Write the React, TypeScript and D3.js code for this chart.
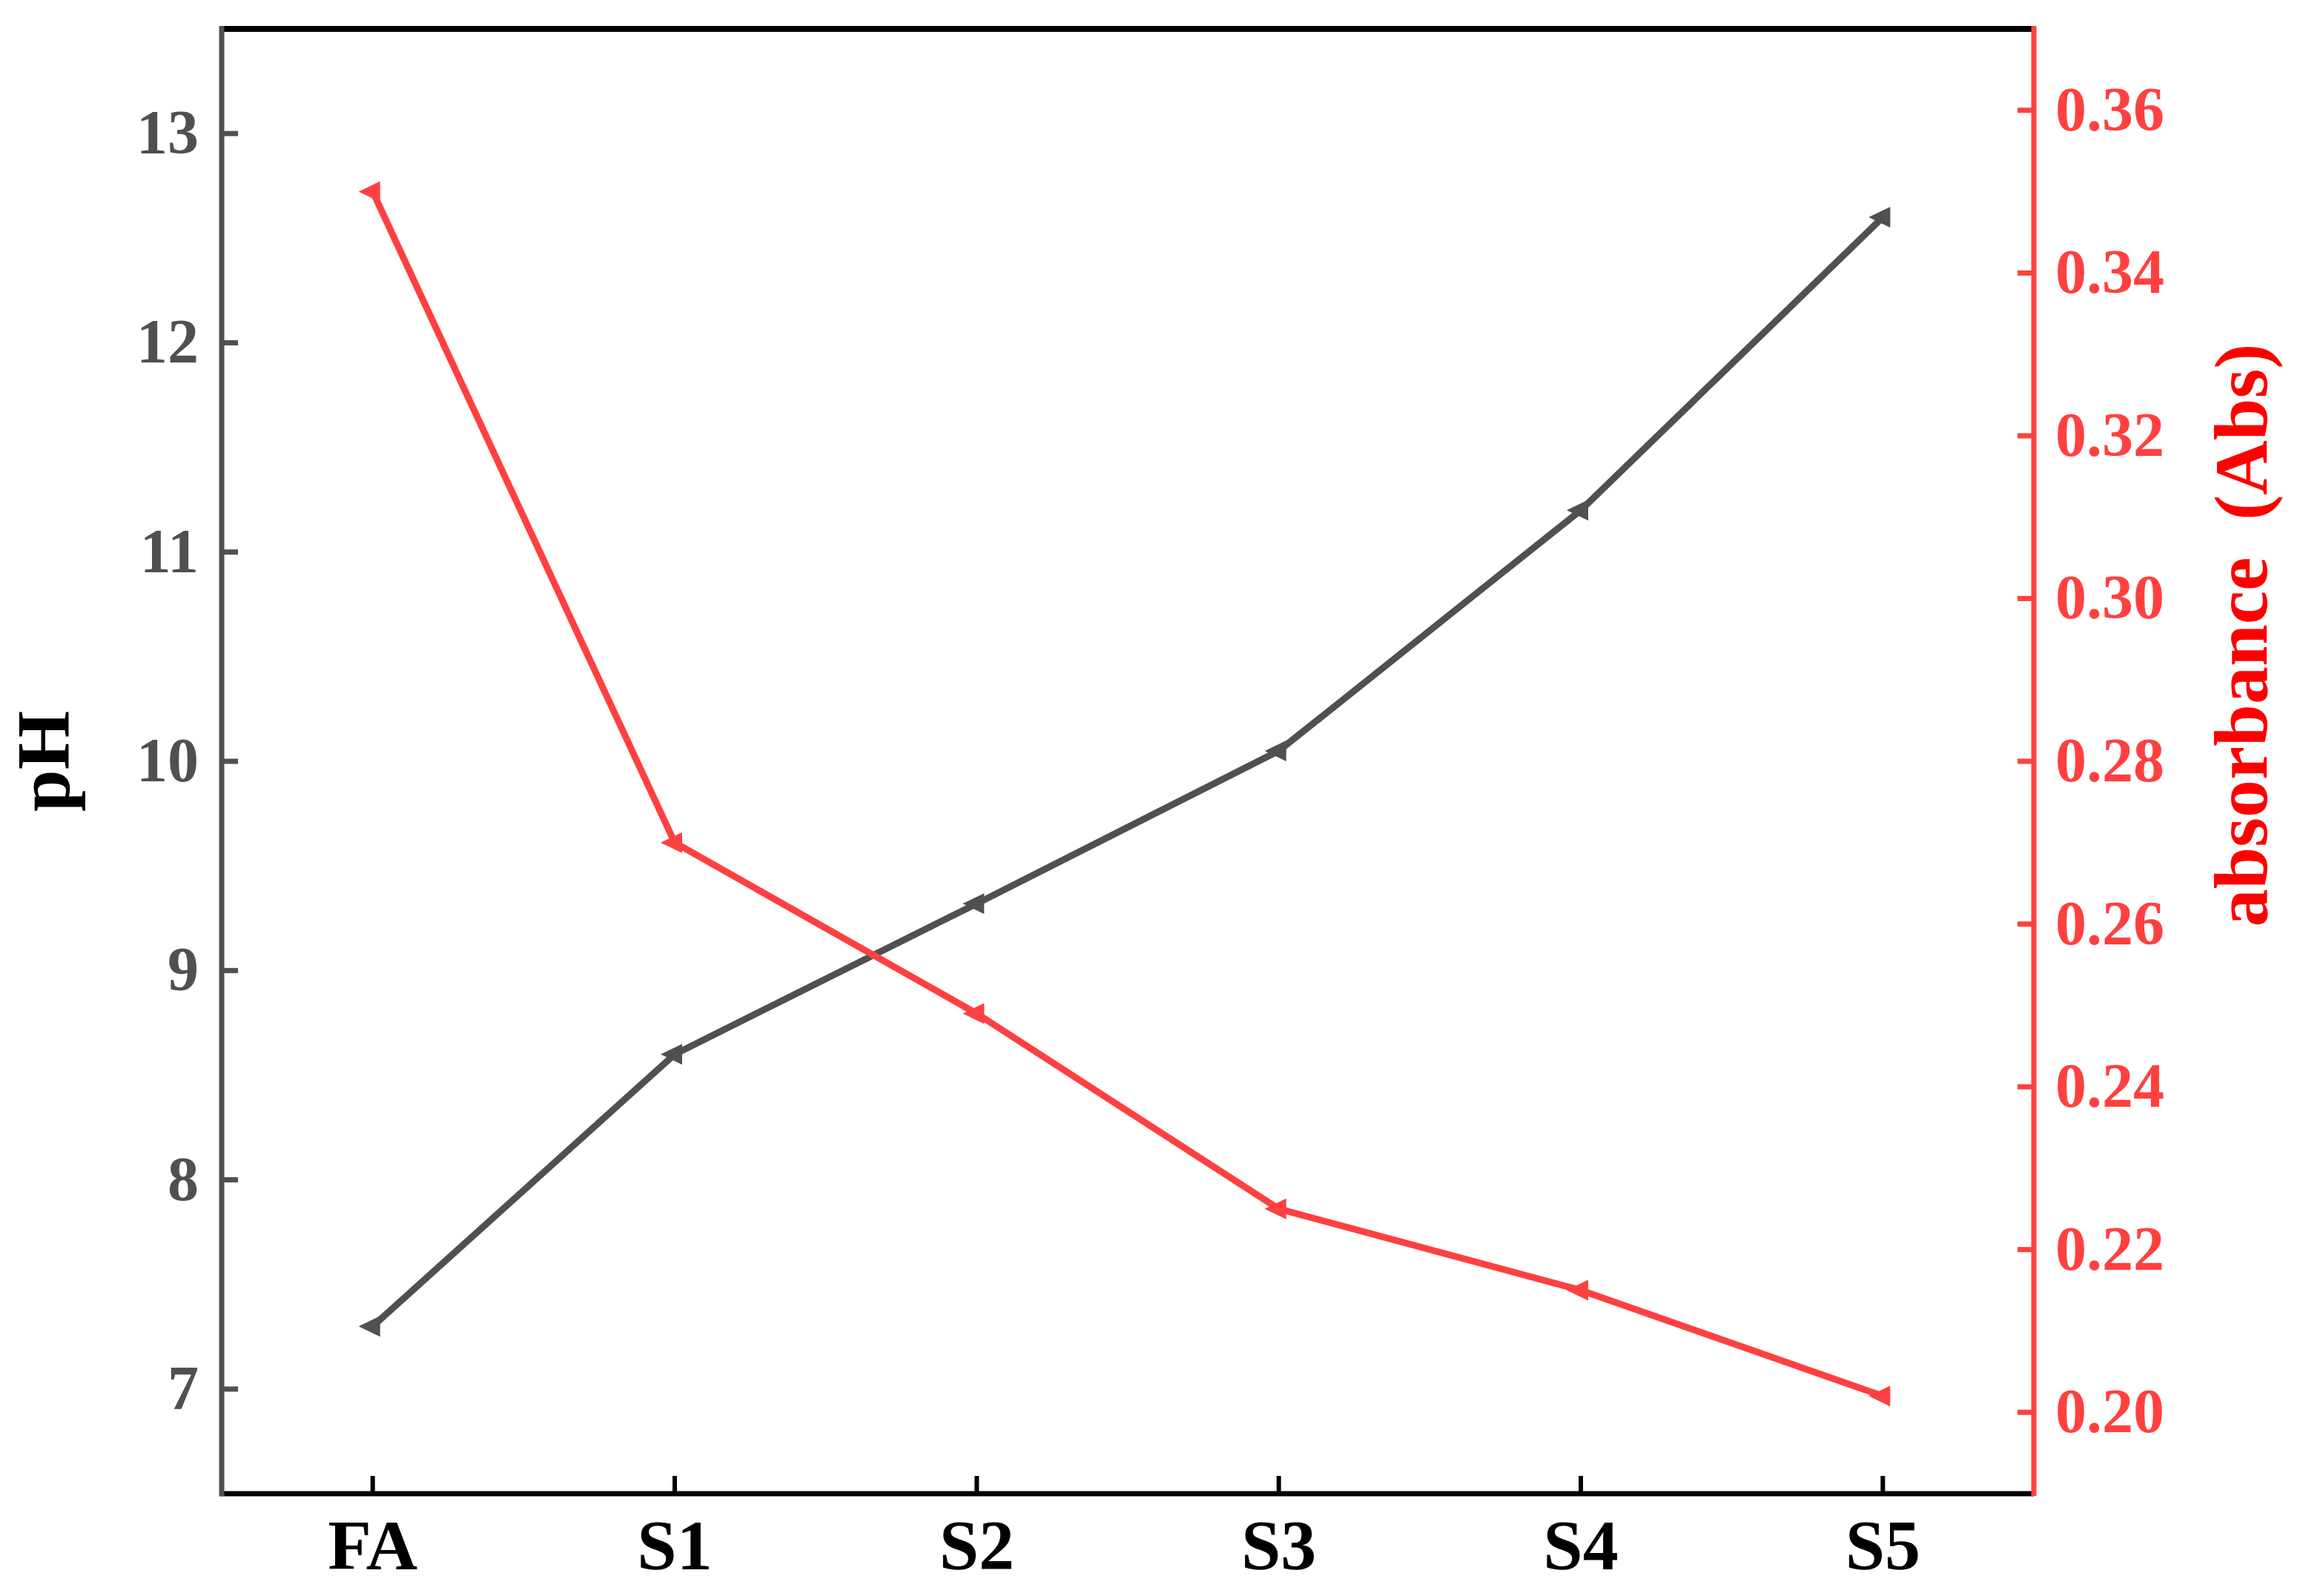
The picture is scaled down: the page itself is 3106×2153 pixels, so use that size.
import React from "react";
import * as d3 from "d3";

const categories = ["FA", "S1", "S2", "S3", "S4", "S5"];
const phValues = [7.3, 8.6, 9.32, 10.05, 11.2, 12.6];
const absValues = [0.35, 0.27, 0.249, 0.225, 0.215, 0.202];
const phTicks = [7, 8, 9, 10, 11, 12, 13];
const absTicks = [0.2, 0.22, 0.24, 0.26, 0.28, 0.3, 0.32, 0.34, 0.36];

const W = 3106;
const H = 2153;
const left = 299;
const right = 2743;
const top = 39;
const bottom = 2015;

const GRAY = "#505050";
const RED = "#FF4040";
const FONT = '"Liberation Serif", "Times New Roman", Times, serif';

export default function App() {
  const x = d3.scalePoint<string>().domain(categories).range([left, right]).padding(0.5);
  const yL = d3.scaleLinear().domain([6.5, 13.5]).range([bottom, top]);
  const yR = d3.scaleLinear().domain([0.19, 0.37]).range([bottom, top]);

  const linePh = d3
    .line<number>()
    .x((_, i) => x(categories[i]) as number)
    .y((d) => yL(d));
  const lineAbs = d3
    .line<number>()
    .x((_, i) => x(categories[i]) as number)
    .y((d) => yR(d));

  const tri = (cx: number, cy: number) =>
    `M${cx - 19},${cy} L${cx + 10},${cy - 14} L${cx + 10},${cy + 14} Z`;

  const txt: React.CSSProperties = { fontFamily: FONT, fontWeight: 700 };

  return (
    <svg
      width={W}
      height={H}
      style={{ position: "absolute", left: 0, top: 0, background: "#fff" }}
    >
      <rect x={0} y={0} width={W} height={H} fill="#fff" />
      {/* frame */}
      <line x1={left - 3} x2={right} y1={top} y2={top} stroke="#000" strokeWidth={8} />
      <line x1={left - 3} x2={right} y1={bottom} y2={bottom} stroke="#000" strokeWidth={7} />
      <line x1={left} x2={left} y1={top - 4} y2={bottom + 3} stroke={GRAY} strokeWidth={7} />
      <line x1={right} x2={right} y1={top - 4} y2={bottom + 3} stroke={RED} strokeWidth={7} />

      {/* left ticks */}
      {phTicks.map((t) => (
        <g key={"l" + t}>
          <line x1={left} x2={left + 22} y1={yL(t)} y2={yL(t)} stroke={GRAY} strokeWidth={7} />
          <text x={268} y={yL(t) + 27} textAnchor="end" fontSize={84} fill={GRAY} style={txt}>
            {t}
          </text>
        </g>
      ))}

      {/* right ticks */}
      {absTicks.map((t) => (
        <g key={"r" + t}>
          <line x1={right - 22} x2={right} y1={yR(t)} y2={yR(t)} stroke={RED} strokeWidth={7} />
          <text x={2772} y={yR(t) + 27} textAnchor="start" fontSize={84} fill={RED} style={txt}>
            {t.toFixed(2)}
          </text>
        </g>
      ))}

      {/* bottom ticks */}
      {categories.map((c) => (
        <g key={"b" + c}>
          <line x1={x(c)} x2={x(c)} y1={bottom} y2={bottom - 24} stroke="#000" strokeWidth={6} />
          <text x={x(c)} y={2117} textAnchor="middle" fontSize={96} fill="#000" style={txt}>
            {c}
          </text>
        </g>
      ))}

      {/* axis titles */}
      <text
        transform={`translate(93, 1027) rotate(-90)`}
        textAnchor="middle"
        fontSize={102}
        fill="#000"
        style={txt}
      >
        pH
      </text>
      <text
        transform={`translate(3057, 857) rotate(-90)`}
        textAnchor="middle"
        fontSize={102}
        fill="#FF0000"
        style={txt}
      >
        <tspan>absorbance</tspan>
        <tspan dx={50}>(Abs)</tspan>
      </text>

      {/* series */}
      <path d={linePh(phValues) || ""} fill="none" stroke={GRAY} strokeWidth={9} strokeLinejoin="miter" />
      {phValues.map((v, i) => (
        <path key={"pm" + i} d={tri(x(categories[i]) as number, yL(v))} fill={GRAY} />
      ))}
      <path d={lineAbs(absValues) || ""} fill="none" stroke={RED} strokeWidth={9} strokeLinejoin="miter" />
      {absValues.map((v, i) => (
        <path key={"am" + i} d={tri(x(categories[i]) as number, yR(v))} fill={RED} />
      ))}
    </svg>
  );
}
